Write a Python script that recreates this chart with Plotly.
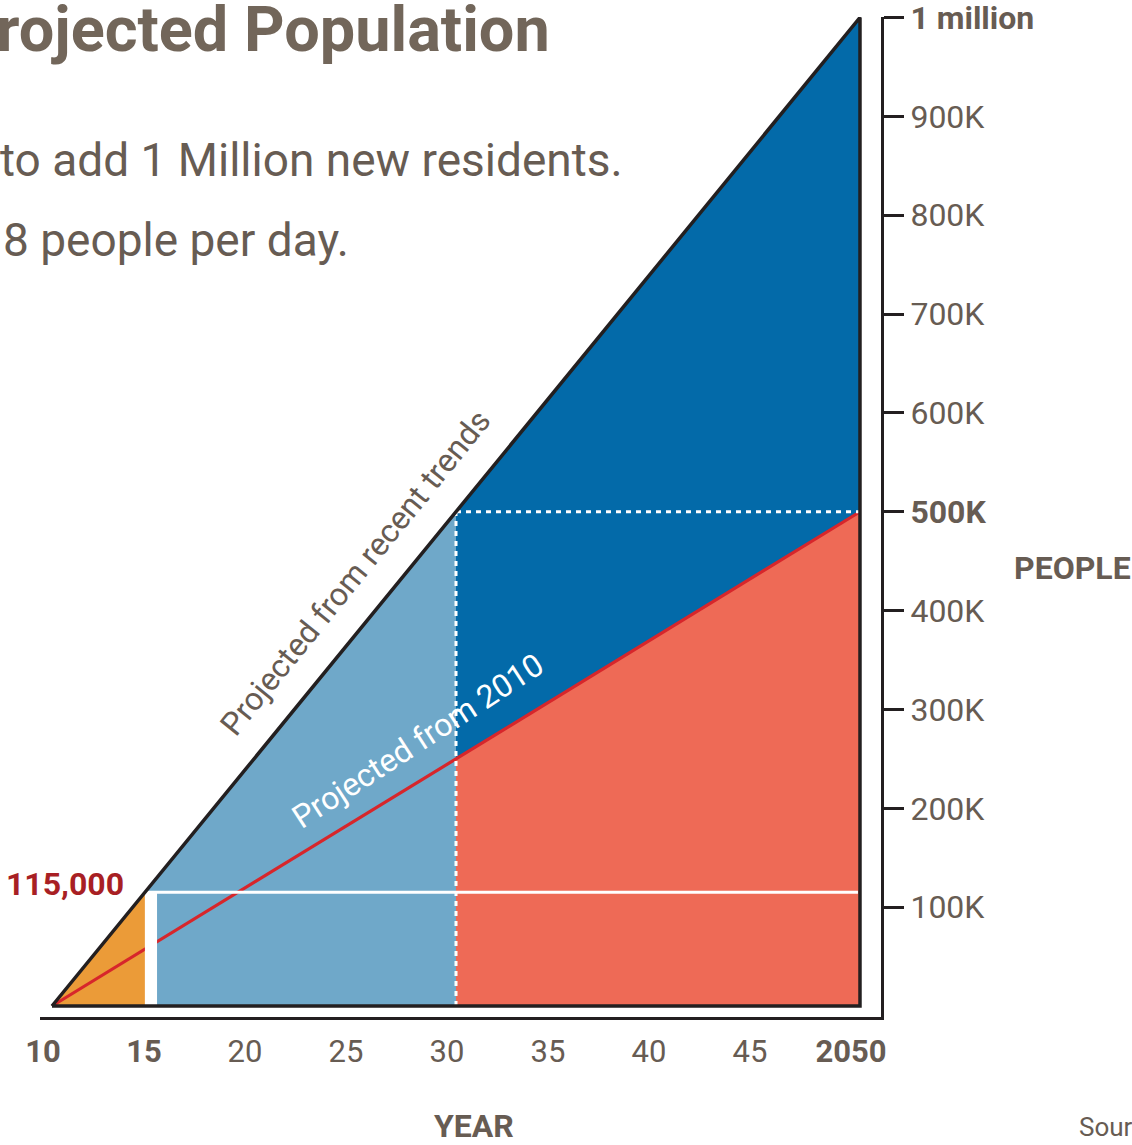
import plotly.graph_objects as go

# ---- data -------------------------------------------------------------
year_start = 2010
year_split = 2030
year_end = 2050
gap_end_year = 2015.2            # end of the white separator after the 2015 wedge

trend_pop_end = 1_000_000        # projected from recent trends, by 2050
base_pop_end = 500_000           # projected from 2010, by 2050
pop_2015 = 115_000               # residents added by 2015

year_ticks = [2010, 2015, 2020, 2025, 2030, 2035, 2040, 2045, 2050]
year_tick_text = ["<b>10</b>", "<b>15</b>", "20", "25", "30", "35", "40", "45", "<b>2050</b>"]
pop_ticks = [100_000, 200_000, 300_000, 400_000, 500_000,
             600_000, 700_000, 800_000, 900_000, 1_000_000]
pop_tick_text = ["100K", "200K", "300K", "400K", "<b>500K</b>",
                 "600K", "700K", "800K", "900K", "<b>1 million</b>"]

# ---- colours ------------------------------------------------------------
INK = "#231f20"
TEXT = "#675c53"
TITLE = "#72665a"
DARK_BLUE = "#036aa9"
LIGHT_BLUE = "#6fa8c9"
SALMON = "#ee6a56"
ORANGE = "#eb9b38"
RED = "#d7262b"
LABEL_RED = "#a81f24"
FONT = "Roboto"


def trend(y):
    """Population on the recent-trends line for year y."""
    return trend_pop_end * (y - year_start) / (year_end - year_start)


def base(y):
    """Population on the projected-from-2010 line for year y."""
    return base_pop_end * (y - year_start) / (year_end - year_start)


# year at which the recent-trends line reaches the 2015 population
year_115 = year_start + (year_end - year_start) * pop_2015 / trend_pop_end

W, H = 1132, 1145
ML, MR, MT, MB = 40, 251, 17, 128
PW, PH = W - ML - MR, H - MT - MB


def px(x):
    return (x - ML) / PW


def py(y):
    return (H - MB - y) / PH


fig = go.Figure()


def area(xs, ys, color):
    fig.add_trace(go.Scatter(x=xs, y=ys, fill="toself", fillcolor=color,
                             mode="lines", line=dict(width=0, color=color),
                             hoverinfo="skip", showlegend=False))


def line(xs, ys, color, width, dash="solid"):
    fig.add_trace(go.Scatter(x=xs, y=ys, mode="lines",
                             line=dict(color=color, width=width, dash=dash),
                             hoverinfo="skip", showlegend=False, cliponaxis=False))


# light blue: 2015 to 2030 under the recent-trends line
area([year_115, year_115, year_split, year_split],
     [0, pop_2015, trend(year_split), 0], LIGHT_BLUE)
# dark blue: 2030 to 2050 between the two projections
area([year_split, year_split, year_end, year_end],
     [base(year_split), trend(year_split), trend(year_end), base(year_end)], DARK_BLUE)
# salmon: 2030 to 2050 under the projection from 2010
area([year_split, year_split, year_end, year_end],
     [0, base(year_split), base(year_end), 0], SALMON)
# orange: the first five years
area([year_start, year_115, year_115], [0, pop_2015, 0], ORANGE)

# projection from 2010
line([year_start, year_end], [0, base_pop_end], RED, 3.2)

# white separator and the 115,000 level
area([year_115, year_115, gap_end_year, gap_end_year],
     [0, pop_2015, pop_2015, 0], "white")
line([year_115, year_end - 0.1], [pop_2015, pop_2015], "white", 3)

# dotted guides at 2030 and 500K
line([year_split, year_split], [0, trend(year_split)], "white", 3, dash="5px,5px")
line([year_split, year_end], [trend(year_split), trend(year_split)], "white", 3, dash="5px,5px")

# triangle outline
line([year_start, year_end, year_end, year_start],
     [0, trend_pop_end, 0, 0], INK, 3.5)


def note(text, x, y, size, color, xanchor="left", yanchor="middle",
         angle=0, xref="paper", yref="paper"):
    fig.add_annotation(text=text, x=x, y=y, xref=xref, yref=yref,
                       xanchor=xanchor, yanchor=yanchor, textangle=angle,
                       showarrow=False, font=dict(family=FONT, size=size, color=color))


note("<b>Projected Population</b>", px(552), py(29), 63, TITLE, xanchor="right")
note("to add 1 Million new residents.", px(-2), py(160), 46, TEXT)
note("8 people per day.", px(1), py(240), 46, TEXT)
note("<b>115,000</b>", px(126), py(884), 32, LABEL_RED, xanchor="right")
note("<b>PEOPLE</b>", px(1012), py(568), 32, TEXT)
note("<b>YEAR</b>", px(474), py(1126), 32, TEXT, xanchor="center")
note("Source:", px(1077), py(1127), 26, TEXT)

# labels along the two projection lines
note("Projected from recent trends", 2025.0, 438_000, 32, TEXT,
     xanchor="center", angle=-51, xref="x", yref="y")
note("Projected from 2010", 2028.1, 268_000, 32, "white",
     xanchor="center", angle=-33, xref="x", yref="y")

fig.update_layout(
    width=W, height=H,
    margin=dict(l=ML, r=MR, t=MT, b=MB, pad=0, autoexpand=False),
    paper_bgcolor="white", plot_bgcolor="white",
    font=dict(family=FONT, color=TEXT),
    xaxis=dict(range=[2009.406, 2051.04], showgrid=False, zeroline=False,
               showline=True, linecolor=INK, linewidth=3, automargin=False,
               ticks="", tickvals=year_ticks, ticktext=year_tick_text,
               tickfont=dict(family=FONT, size=31, color=TEXT),
               ticklabelstandoff=5, ticklabelshift=-9),
    yaxis=dict(range=[-11_122, 1_000_500], side="right", showgrid=False,
               zeroline=False, showline=True, linecolor=INK, linewidth=3,
               automargin=False, ticklabeloverflow="allow",
               ticks="outside", ticklen=20, tickwidth=3, tickcolor=INK,
               tickvals=pop_ticks, ticktext=pop_tick_text,
               tickfont=dict(family=FONT, size=32, color=TEXT),
               ticklabelstandoff=0),
)

fig.write_html("out.html")
